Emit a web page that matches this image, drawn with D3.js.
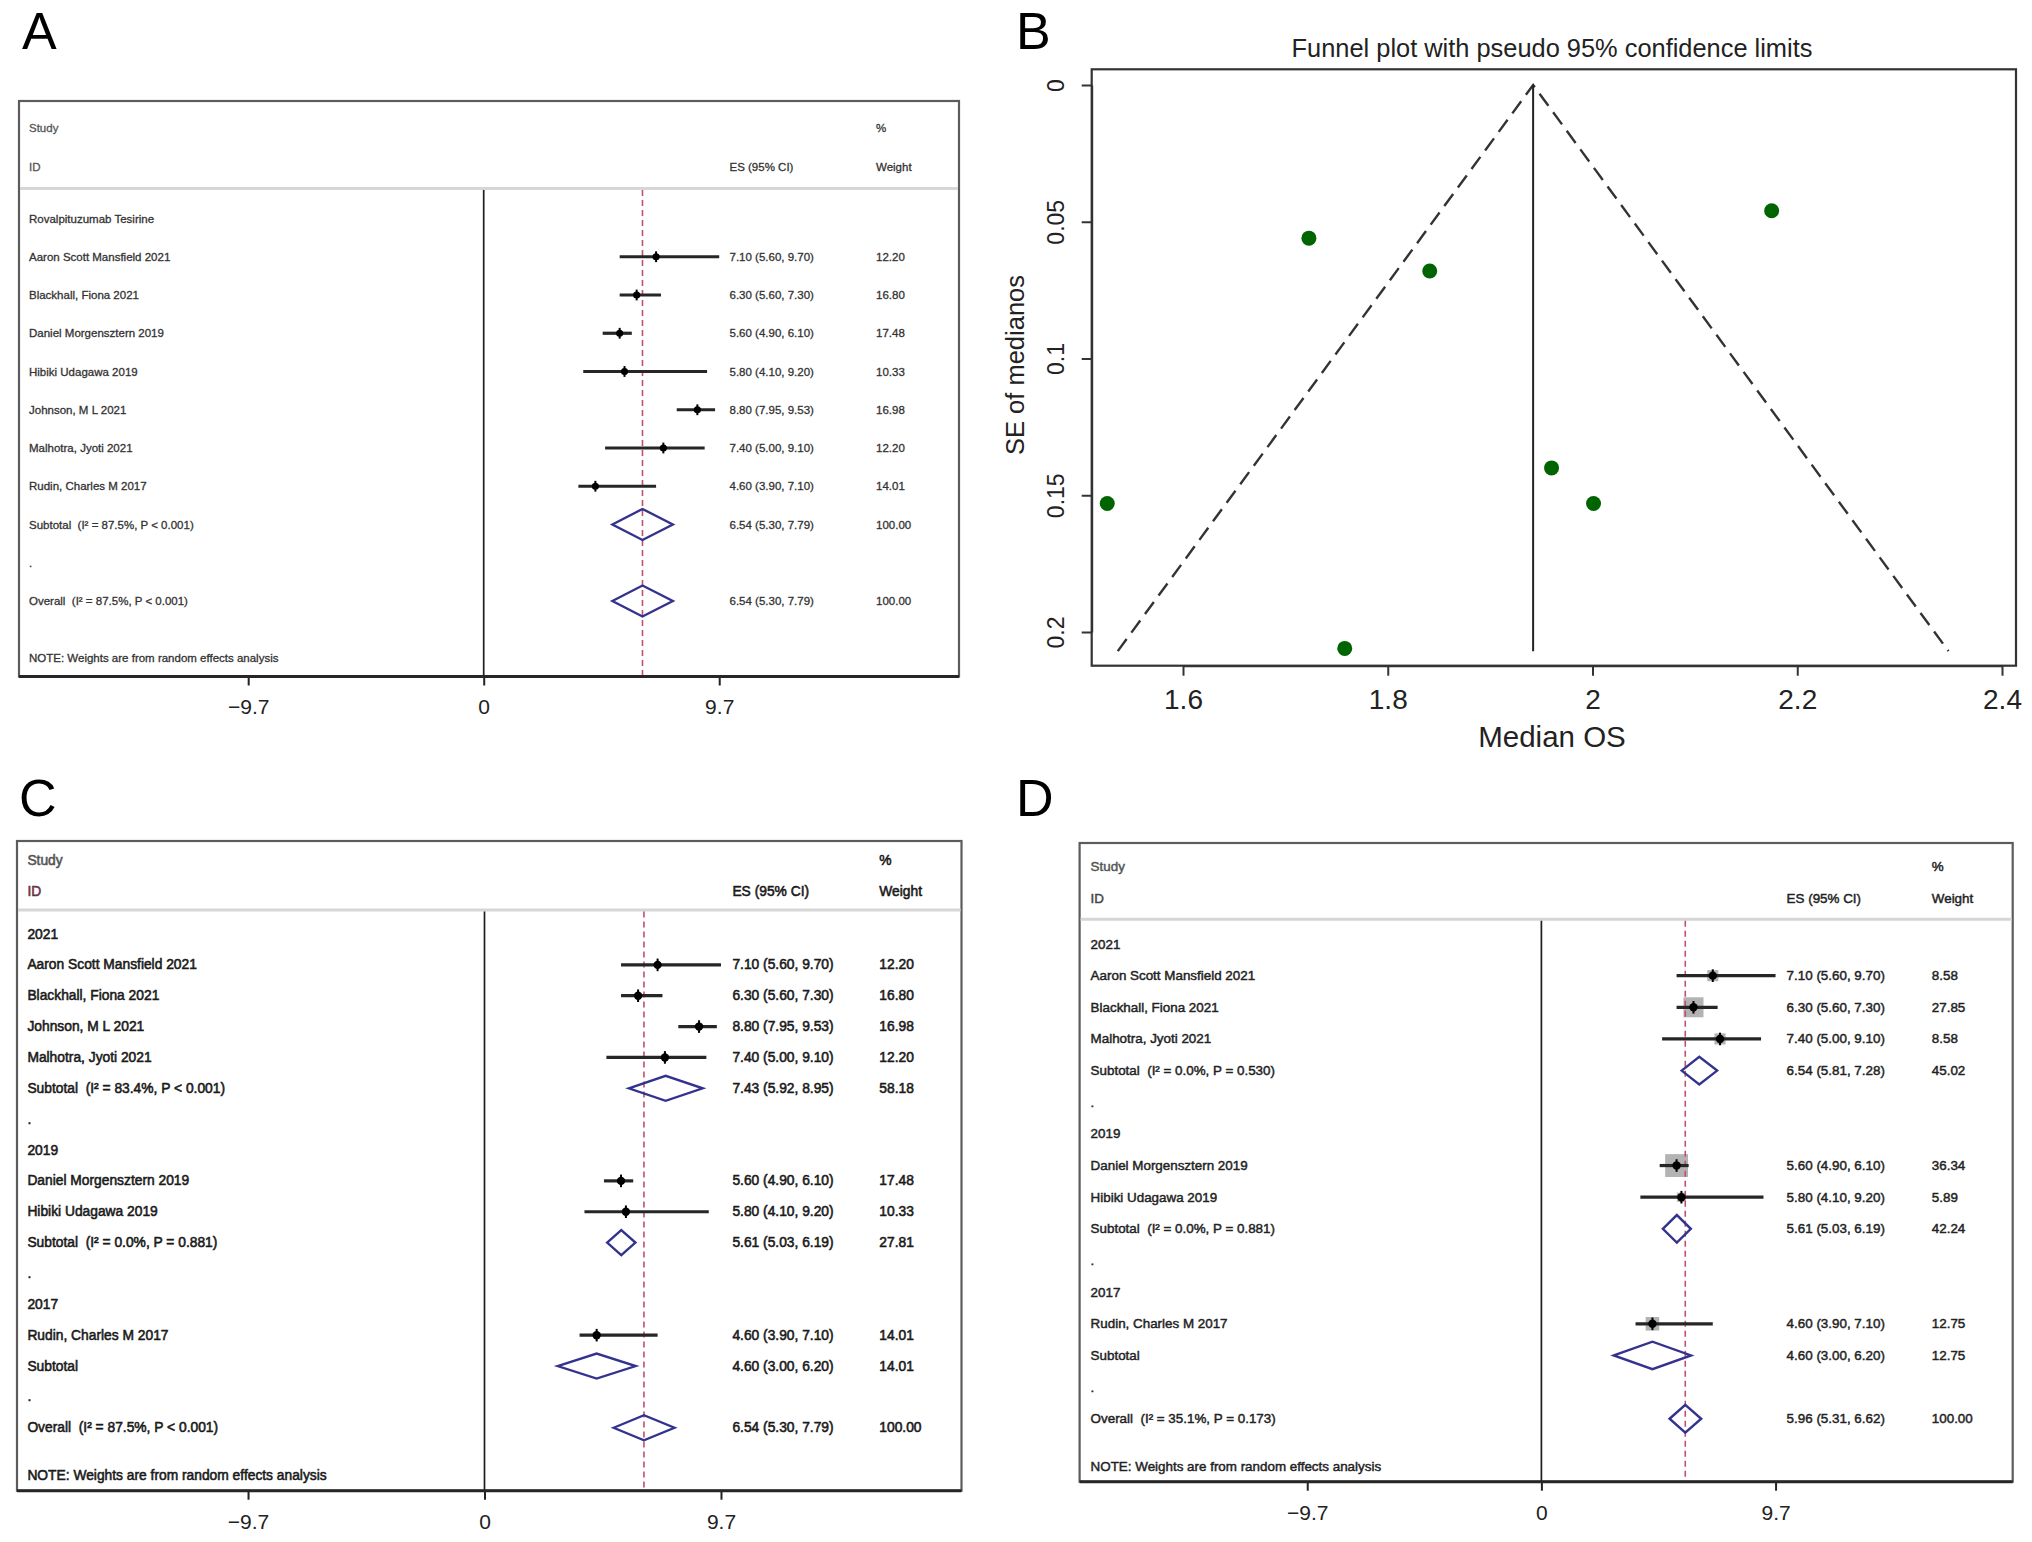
<!DOCTYPE html>
<html>
<head>
<meta charset="utf-8">
<script src="https://cdn.jsdelivr.net/npm/d3@7"></script>
<style>
  body { margin: 0; background: #ffffff; }
  svg text { white-space: pre; }
</style>
</head>
<body>
<svg id="fig" width="2032" height="1542"></svg>
<script>
// ======================= DATA =======================
// Shared forest-plot axis ticks
const forestTicks = [-9.7, 0, 9.7];

// ---- Panel A ----
const labelsA = ["Rovalpituzumab Tesirine", "Aaron Scott Mansfield 2021", "Blackhall, Fiona 2021",
  "Daniel Morgensztern 2019", "Hibiki Udagawa 2019", "Johnson, M L 2021", "Malhotra, Jyoti 2021",
  "Rudin, Charles M 2017", "Subtotal  (I\u00b2 = 87.5%, P < 0.001)", ".", "Overall  (I\u00b2 = 87.5%, P < 0.001)"];
const kindsA = ["head", "study", "study", "study", "study", "study", "study", "study", "sub", "gap", "overall"];
const esA = [null, 7.10, 6.30, 5.60, 5.80, 8.80, 7.40, 4.60, 6.54, null, 6.54];
const lowA = [null, 5.60, 5.60, 4.90, 4.10, 7.95, 5.00, 3.90, 5.30, null, 5.30];
const highA = [null, 9.70, 7.30, 6.10, 9.20, 9.53, 9.10, 7.10, 7.79, null, 7.79];
const weightA = [null, 12.20, 16.80, 17.48, 10.33, 16.98, 12.20, 14.01, 100.00, null, 100.00];
const pooledA = 6.54;

// ---- Panel C ----
const labelsC = ["2021", "Aaron Scott Mansfield 2021", "Blackhall, Fiona 2021", "Johnson, M L 2021",
  "Malhotra, Jyoti 2021", "Subtotal  (I\u00b2 = 83.4%, P < 0.001)", ".", "2019", "Daniel Morgensztern 2019",
  "Hibiki Udagawa 2019", "Subtotal  (I\u00b2 = 0.0%, P = 0.881)", ".", "2017", "Rudin, Charles M 2017",
  "Subtotal", ".", "Overall  (I\u00b2 = 87.5%, P < 0.001)"];
const kindsC = ["head", "study", "study", "study", "study", "sub", "gap", "head", "study", "study", "sub",
  "gap", "head", "study", "sub", "gap", "overall"];
const esC = [null, 7.10, 6.30, 8.80, 7.40, 7.43, null, null, 5.60, 5.80, 5.61, null, null, 4.60, 4.60, null, 6.54];
const lowC = [null, 5.60, 5.60, 7.95, 5.00, 5.92, null, null, 4.90, 4.10, 5.03, null, null, 3.90, 3.00, null, 5.30];
const highC = [null, 9.70, 7.30, 9.53, 9.10, 8.95, null, null, 6.10, 9.20, 6.19, null, null, 7.10, 6.20, null, 7.79];
const weightC = [null, 12.20, 16.80, 16.98, 12.20, 58.18, null, null, 17.48, 10.33, 27.81, null, null, 14.01, 14.01, null, 100.00];
const pooledC = 6.54;

// ---- Panel D ----
const labelsD = ["2021", "Aaron Scott Mansfield 2021", "Blackhall, Fiona 2021", "Malhotra, Jyoti 2021",
  "Subtotal  (I\u00b2 = 0.0%, P = 0.530)", ".", "2019", "Daniel Morgensztern 2019", "Hibiki Udagawa 2019",
  "Subtotal  (I\u00b2 = 0.0%, P = 0.881)", ".", "2017", "Rudin, Charles M 2017", "Subtotal", ".",
  "Overall  (I\u00b2 = 35.1%, P = 0.173)"];
const kindsD = ["head", "study", "study", "study", "sub", "gap", "head", "study", "study", "sub", "gap",
  "head", "study", "sub", "gap", "overall"];
const esD = [null, 7.10, 6.30, 7.40, 6.54, null, null, 5.60, 5.80, 5.61, null, null, 4.60, 4.60, null, 5.96];
const lowD = [null, 5.60, 5.60, 5.00, 5.81, null, null, 4.90, 4.10, 5.03, null, null, 3.90, 3.00, null, 5.31];
const highD = [null, 9.70, 7.30, 9.10, 7.28, null, null, 6.10, 9.20, 6.19, null, null, 7.10, 6.20, null, 6.62];
const weightD = [null, 8.58, 27.85, 8.58, 45.02, null, null, 36.34, 5.89, 42.24, null, null, 12.75, 12.75, null, 100.00];
const pooledD = 5.96;

// ---- Panel B (funnel plot): log median OS and SE ----
const funnelMedian = [1.723, 1.841, 2.175, 1.960, 2.001, 1.526, 1.758];
const funnelSE = [0.056, 0.068, 0.046, 0.140, 0.153, 0.153, 0.206];
const funnelCenter = 1.942;
const funnelMaxSE = 0.207;
const funnelXTicks = [1.6, 1.8, 2, 2.2, 2.4];
const funnelYTicks = [0, 0.05, 0.1, 0.15, 0.2];

// ======================= DRAWING =======================
const FONT = '"Liberation Sans", Arial, Helvetica, sans-serif';
const svg = d3.select("#fig").attr("font-family", FONT);

function drawForest(cfg, d) {
  const g = svg.append("g");
  const x = d3.scaleLinear().domain([-9.7, 9.7])
    .range([cfg.zeroX - 9.7 * cfg.unit, cfg.zeroX + 9.7 * cfg.unit]);
  const y = d3.scaleLinear().domain([0, 1]).range([cfg.row0, cfg.row0 + cfg.rowStep]);
  const boxSide = d3.scaleSqrt().domain([0, 100]).range([0, 37.9]);

  const rows = d.labels.map((lab, i) => ({
    lab, i, kind: d.kinds[i], es: d.es[i], lo: d.lo[i], hi: d.hi[i], w: d.w[i]
  }));

  // frame
  g.append("rect")
    .attr("x", cfg.left).attr("y", cfg.top)
    .attr("width", cfg.right - cfg.left).attr("height", cfg.bottom - cfg.top)
    .attr("fill", "none").attr("stroke", "#5c5c5c").attr("stroke-width", 2.2);

  // header separator
  g.append("line")
    .attr("x1", cfg.left + 1).attr("x2", cfg.right - 1)
    .attr("y1", cfg.sepY).attr("y2", cfg.sepY)
    .attr("stroke", "#d6d6d6").attr("stroke-width", 3);

  // header texts
  const hdr = g.append("g").attr("font-size", cfg.font).attr("dominant-baseline", "central")
    .attr("stroke-width", cfg.textStroke).attr("paint-order", "stroke");
  const ht = (xx, yy, col, s) => hdr.append("text").attr("x", xx).attr("y", yy)
    .attr("fill", col).attr("stroke", col).text(s);
  ht(cfg.textX, cfg.studyY, cfg.hdrColor, "Study");
  ht(cfg.textX, cfg.idY, cfg.idColor, "ID");
  ht(cfg.esX, cfg.idY, cfg.textColor, "ES (95% CI)");
  ht(cfg.wX, cfg.studyY, cfg.textColor, "%");
  ht(cfg.wX, cfg.idY, cfg.textColor, "Weight");

  // zero (null) line
  g.append("line")
    .attr("x1", x(0)).attr("x2", x(0))
    .attr("y1", cfg.sepY + 1.5).attr("y2", cfg.bottom)
    .attr("stroke", "#1e1e1e").attr("stroke-width", 1.7);

  // weight boxes (only where visible in the reference)
  if (cfg.boxes) {
    g.selectAll("rect.wbox").data(rows.filter(r => r.kind === "study")).join("rect")
      .attr("class", "wbox")
      .attr("x", r => x(r.es) - boxSide(r.w) / 2)
      .attr("y", r => y(r.i) - boxSide(r.w) / 2)
      .attr("width", r => boxSide(r.w)).attr("height", r => boxSide(r.w))
      .attr("fill", "#b3b3b3");
  }

  // pooled estimate dashed line
  g.append("line")
    .attr("x1", x(d.pooled)).attr("x2", x(d.pooled))
    .attr("y1", cfg.sepY + 1.5).attr("y2", cfg.bottom)
    .attr("stroke", "#c0506b").attr("stroke-width", 1.6).attr("stroke-dasharray", "6,4");

  // CI lines
  const studies = rows.filter(r => r.kind === "study");
  g.selectAll("line.ci").data(studies).join("line")
    .attr("class", "ci")
    .attr("x1", r => x(r.lo)).attr("x2", r => x(r.hi))
    .attr("y1", r => y(r.i)).attr("y2", r => y(r.i))
    .attr("stroke", "#262626").attr("stroke-width", cfg.ciWidth);

  // point estimates
  g.selectAll("circle.pt").data(studies).join("circle")
    .attr("class", "pt")
    .attr("cx", r => x(r.es)).attr("cy", r => y(r.i)).attr("r", cfg.markR)
    .attr("fill", "#000");
  g.selectAll("line.ptv").data(studies).join("line")
    .attr("class", "ptv")
    .attr("x1", r => x(r.es)).attr("x2", r => x(r.es))
    .attr("y1", r => y(r.i) - cfg.markR * 1.5).attr("y2", r => y(r.i) + cfg.markR * 1.5)
    .attr("stroke", "#000").attr("stroke-width", 2);

  // diamonds
  const pooledRows = rows.filter(r => r.kind === "sub" || r.kind === "overall");
  g.selectAll("path.dia").data(pooledRows).join("path")
    .attr("class", "dia")
    .attr("d", r => {
      const yy = y(r.i), h = cfg.diaH;
      return d3.line()([[x(r.lo), yy], [x(r.es), yy - h], [x(r.hi), yy], [x(r.es), yy + h]]) + "Z";
    })
    .attr("fill", "none").attr("stroke", "#33338f").attr("stroke-width", 2.4);

  // row texts
  const txt = g.append("g").attr("font-size", cfg.font).attr("dominant-baseline", "central")
    .attr("fill", cfg.textColor).attr("stroke", cfg.textColor).attr("stroke-width", cfg.textStroke);
  txt.selectAll("text.lab").data(rows).join("text")
    .attr("class", "lab")
    .attr("x", cfg.textX).attr("y", r => y(r.i))
    .text(r => r.lab);
  const f2 = d3.format(".2f");
  const numRows = rows.filter(r => r.es !== null);
  txt.selectAll("text.es").data(numRows).join("text")
    .attr("class", "es")
    .attr("x", cfg.esX).attr("y", r => y(r.i))
    .text(r => `${f2(r.es)} (${f2(r.lo)}, ${f2(r.hi)})`);
  txt.selectAll("text.wt").data(numRows).join("text")
    .attr("class", "wt")
    .attr("x", cfg.wX).attr("y", r => y(r.i))
    .text(r => f2(r.w));
  txt.append("text").attr("x", cfg.textX).attr("y", y(cfg.noteRow))
    .text("NOTE: Weights are from random effects analysis");

  // bottom axis
  const ax = g.append("g").attr("transform", `translate(0,${cfg.bottom})`)
    .call(d3.axisBottom(x).tickValues(forestTicks).tickSize(9).tickSizeOuter(0).tickPadding(14)
      .tickFormat(d3.format("~g")));
  ax.select(".domain").remove();
  ax.selectAll(".tick line").attr("stroke", "#222").attr("stroke-width", 2);
  ax.selectAll(".tick text").attr("font-size", 21).attr("font-family", FONT).attr("fill", "#222");

  // bottom border (axis line)
  g.append("line")
    .attr("x1", cfg.left).attr("x2", cfg.right)
    .attr("y1", cfg.bottom).attr("y2", cfg.bottom)
    .attr("stroke", "#262626").attr("stroke-width", 3);
}

drawForest({
  left: 19, right: 959, top: 101, bottom: 676.5,
  studyY: 128.3, idY: 166.7, sepY: 188.5,
  row0: 218.5, rowStep: 38.25, noteRow: 11.5,
  textX: 29, esX: 729.5, wX: 876,
  zeroX: 483.7, unit: 24.28,
  font: 11.5, textColor: "#333", hdrColor: "#555", idColor: "#555", textStroke: 0.3,
  ciWidth: 3.2, markR: 3.6, diaH: 15.5, boxes: false
}, { labels: labelsA, kinds: kindsA, es: esA, lo: lowA, hi: highA, w: weightA, pooled: pooledA });

drawForest({
  left: 17, right: 961.5, top: 841, bottom: 1490.7,
  studyY: 860.7, idY: 891.7, sepY: 910,
  row0: 934, rowStep: 30.86, noteRow: 17.55,
  textX: 27.4, esX: 732.4, wX: 879.3,
  zeroX: 484.5, unit: 24.38,
  font: 13.8, textColor: "#1a1a1a", hdrColor: "#555", idColor: "#6b3243", textStroke: 0.55,
  ciWidth: 3.2, markR: 4.2, diaH: 12.5, boxes: false
}, { labels: labelsC, kinds: kindsC, es: esC, lo: lowC, hi: highC, w: weightC, pooled: pooledC });

drawForest({
  left: 1079.6, right: 2012.7, top: 843, bottom: 1481.7,
  studyY: 866.7, idY: 898.3, sepY: 919.3,
  row0: 944, rowStep: 31.65, noteRow: 16.5,
  textX: 1090.6, esX: 1786.6, wX: 1931.8,
  zeroX: 1541.4, unit: 24.14,
  font: 13.4, textColor: "#222", hdrColor: "#555", idColor: "#444", textStroke: 0.45,
  ciWidth: 3.2, markR: 4.2, diaH: 13.8, boxes: true
}, { labels: labelsD, kinds: kindsD, es: esD, lo: lowD, hi: highD, w: weightD, pooled: pooledD });

// ---------------- Panel B: funnel plot ----------------
(function drawFunnel() {
  const g = svg.append("g");
  const box = { left: 1091.7, right: 2016, top: 69.3, bottom: 665.7 };
  const x = d3.scaleLinear().domain([1.6, 2.4]).range([1183, 2002]);
  const y = d3.scaleLinear().domain([0, 0.2]).range([85, 632]);

  g.append("rect")
    .attr("x", box.left).attr("y", box.top)
    .attr("width", box.right - box.left).attr("height", box.bottom - box.top)
    .attr("fill", "none").attr("stroke", "#333").attr("stroke-width", 2.2);

  // pseudo 95% confidence limits
  const lim = [
    [funnelCenter - 1.96 * funnelMaxSE, funnelMaxSE],
    [funnelCenter, 0],
    [funnelCenter + 1.96 * funnelMaxSE, funnelMaxSE]
  ];
  g.append("path")
    .attr("d", d3.line().x(p => x(p[0])).y(p => y(p[1]))(lim))
    .attr("fill", "none").attr("stroke", "#333").attr("stroke-width", 2.4)
    .attr("stroke-dasharray", "15,8");
  g.append("line")
    .attr("x1", x(funnelCenter)).attr("x2", x(funnelCenter))
    .attr("y1", y(0)).attr("y2", y(funnelMaxSE))
    .attr("stroke", "#222").attr("stroke-width", 2);

  // points
  g.selectAll("circle.pt").data(funnelMedian.map((m, i) => ({ m, se: funnelSE[i] }))).join("circle")
    .attr("class", "pt")
    .attr("cx", p => x(p.m)).attr("cy", p => y(p.se)).attr("r", 7.5)
    .attr("fill", "#006400");

  // x axis
  const ax = g.append("g").attr("transform", `translate(0,${box.bottom})`)
    .call(d3.axisBottom(x).tickValues(funnelXTicks).tickSize(10).tickSizeOuter(0).tickPadding(13)
      .tickFormat(d3.format("~g")));
  ax.select(".domain").attr("stroke", "#333").attr("stroke-width", 2);
  ax.selectAll(".tick line").attr("stroke", "#333").attr("stroke-width", 2);
  ax.selectAll(".tick text").attr("font-size", 28).attr("font-family", FONT).attr("fill", "#222");

  // y axis with rotated labels
  const ay = g.append("g").attr("transform", `translate(${box.left},0)`)
    .call(d3.axisLeft(y).tickValues(funnelYTicks).tickSize(10).tickSizeOuter(0)
      .tickFormat(d3.format("~g")));
  ay.select(".domain").attr("stroke", "#333").attr("stroke-width", 2);
  ay.selectAll(".tick line").attr("stroke", "#333").attr("stroke-width", 2);
  ay.selectAll(".tick text")
    .attr("font-size", 23).attr("font-family", FONT).attr("fill", "#222")
    .attr("transform", "rotate(-90)")
    .attr("x", 0).attr("y", -36).attr("dy", null)
    .attr("text-anchor", "middle").attr("dominant-baseline", "central");

  // titles
  g.append("text").attr("x", 1552).attr("y", 48).attr("text-anchor", "middle")
    .attr("dominant-baseline", "central").attr("font-size", 25.4).attr("fill", "#222")
    .text("Funnel plot with pseudo 95% confidence limits");
  g.append("text").attr("x", 1552).attr("y", 736).attr("text-anchor", "middle")
    .attr("dominant-baseline", "central").attr("font-size", 29.5).attr("fill", "#222")
    .text("Median OS");
  g.append("text").attr("transform", "translate(1015,365) rotate(-90)").attr("text-anchor", "middle")
    .attr("dominant-baseline", "central").attr("font-size", 25.5).attr("fill", "#222")
    .text("SE of medianos");
})();

// ---------------- Panel letters ----------------
const panelLetters = ["A", "B", "C", "D"];
const letterPos = [[22, 49], [1016, 49], [19, 816], [1016, 816]];
svg.selectAll("text.letter").data(panelLetters).join("text")
  .attr("class", "letter")
  .attr("x", (l, i) => letterPos[i][0]).attr("y", (l, i) => letterPos[i][1])
  .attr("font-size", 52).attr("fill", "#000")
  .text(l => l);
</script>
</body>
</html>
